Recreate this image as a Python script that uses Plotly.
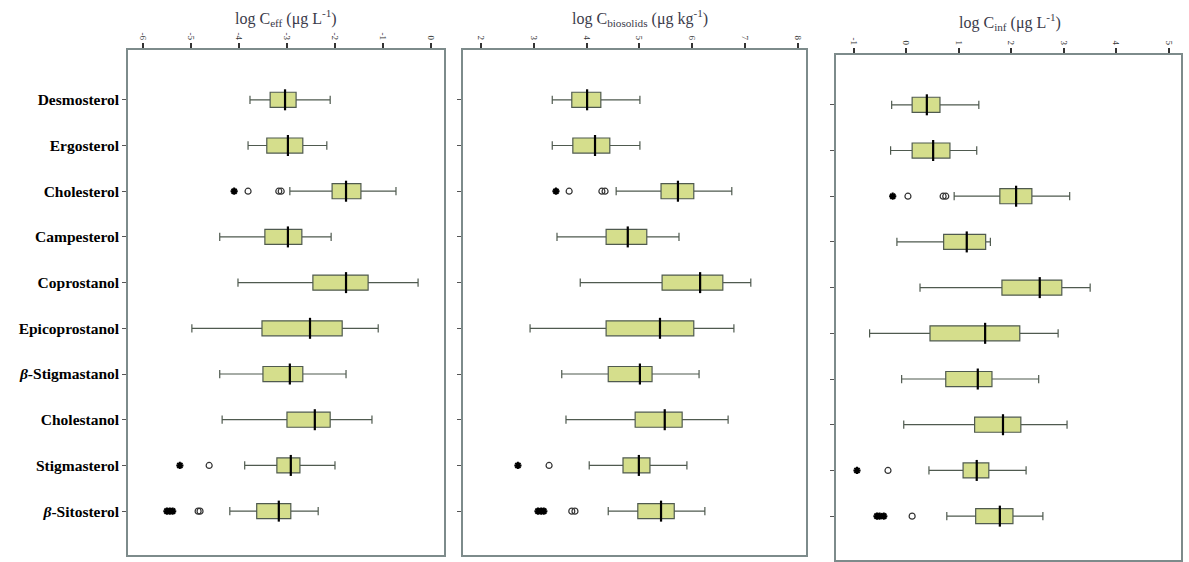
import plotly.graph_objects as go

categories = ["Desmosterol", "Ergosterol", "Cholesterol", "Campesterol", "Coprostanol",
              "Epicoprostanol", "<i>β</i>-Stigmastanol", "Cholestanol", "Stigmasterol",
              "<i>β</i>-Sitosterol"]

# Panel 1: log C_eff
eff_low = [-3.77, -3.81, -2.94, -4.40, -4.02, -4.98, -4.40, -4.35, -3.88, -4.19]
eff_q1 = [-3.35, -3.42, -2.06, -3.46, -2.46, -3.52, -3.50, -3.00, -3.21, -3.63]
eff_med = [-3.04, -2.98, -1.77, -2.98, -1.77, -2.52, -2.94, -2.42, -2.92, -3.17]
eff_q3 = [-2.81, -2.67, -1.46, -2.69, -1.31, -1.85, -2.67, -2.10, -2.73, -2.92]
eff_high = [-2.10, -2.17, -0.73, -2.08, -0.27, -1.10, -1.77, -1.23, -2.00, -2.35]
eff_ext_cat = ["Cholesterol", "Stigmasterol", "<i>β</i>-Sitosterol", "<i>β</i>-Sitosterol", "<i>β</i>-Sitosterol"]
eff_ext_val = [-4.10, -5.23, -5.50, -5.44, -5.38]
eff_out_cat = ["Cholesterol", "Cholesterol", "Cholesterol", "Stigmasterol", "<i>β</i>-Sitosterol", "<i>β</i>-Sitosterol"]
eff_out_val = [-3.81, -3.17, -3.12, -4.62, -4.85, -4.81]

# Panel 2: log C_biosolids
bio_low = [3.35, 3.35, 4.56, 3.44, 3.88, 2.93, 3.53, 3.61, 4.05, 4.41]
bio_q1 = [3.72, 3.74, 5.41, 4.37, 5.43, 4.37, 4.41, 4.92, 4.69, 4.97]
bio_med = [4.01, 4.16, 5.73, 4.78, 6.15, 5.39, 5.01, 5.48, 4.99, 5.41]
bio_q3 = [4.27, 4.44, 6.03, 5.14, 6.58, 6.03, 5.24, 5.81, 5.20, 5.66]
bio_high = [5.01, 5.01, 6.75, 5.75, 7.11, 6.79, 6.13, 6.68, 5.90, 6.24]
bio_ext_cat = ["Cholesterol", "Stigmasterol", "<i>β</i>-Sitosterol", "<i>β</i>-Sitosterol", "<i>β</i>-Sitosterol"]
bio_ext_val = [3.42, 2.70, 3.08, 3.14, 3.19]
bio_out_cat = ["Cholesterol", "Cholesterol", "Cholesterol", "Stigmasterol", "<i>β</i>-Sitosterol", "<i>β</i>-Sitosterol"]
bio_out_val = [3.67, 4.29, 4.35, 3.29, 3.72, 3.78]

# Panel 3: log C_inf
inf_low = [-0.28, -0.30, 0.91, -0.18, 0.26, -0.70, -0.09, -0.05, 0.43, 0.77]
inf_q1 = [0.11, 0.11, 1.78, 0.71, 1.82, 0.45, 0.75, 1.30, 1.08, 1.32]
inf_med = [0.39, 0.51, 2.09, 1.15, 2.54, 1.50, 1.36, 1.84, 1.34, 1.78]
inf_q3 = [0.64, 0.83, 2.39, 1.51, 2.96, 2.16, 1.63, 2.18, 1.57, 2.03]
inf_high = [1.38, 1.34, 3.11, 1.60, 3.50, 2.89, 2.52, 3.06, 2.28, 2.60]
inf_ext_cat = ["Cholesterol", "Stigmasterol", "<i>β</i>-Sitosterol", "<i>β</i>-Sitosterol", "<i>β</i>-Sitosterol"]
inf_ext_val = [-0.26, -0.94, -0.56, -0.51, -0.43]
inf_out_cat = ["Cholesterol", "Cholesterol", "Cholesterol", "Stigmasterol", "<i>β</i>-Sitosterol"]
inf_out_val = [0.03, 0.70, 0.75, -0.35, 0.11]

eff_ticks = [-6, -5, -4, -3, -2, -1, 0]
bio_ticks = [2, 3, 4, 5, 6, 7, 8]
inf_ticks = [-1, 0, 1, 2, 3, 4, 5]

titles = ["log C<sub>eff</sub> (μg L<sup>-1</sup>)",
          "log C<sub>biosolids</sub> (μg kg<sup>-1</sup>)",
          "log C<sub>inf</sub> (μg L<sup>-1</sup>)"]

W, H = 1189, 562
panels = [
    dict(low=eff_low, q1=eff_q1, med=eff_med, q3=eff_q3, high=eff_high,
         ext_c=eff_ext_cat, ext_v=eff_ext_val, out_c=eff_out_cat, out_v=eff_out_val,
         ticks=eff_ticks, xr=[-6.31, 0.27], px=(128, 444), py=(50, 555)),
    dict(low=bio_low, q1=bio_q1, med=bio_med, q3=bio_q3, high=bio_high,
         ext_c=bio_ext_cat, ext_v=bio_ext_val, out_c=bio_out_cat, out_v=bio_out_val,
         ticks=bio_ticks, xr=[1.66, 8.155], px=(463, 806), py=(50, 555)),
    dict(low=inf_low, q1=inf_q1, med=inf_med, q3=inf_q3, high=inf_high,
         ext_c=inf_ext_cat, ext_v=inf_ext_val, out_c=inf_out_cat, out_v=inf_out_val,
         ticks=inf_ticks, xr=[-1.34, 5.23], px=(836, 1181), py=(55, 560)),
]

fig = go.Figure()
layout = {}
frame_col = "#7d8b8b"
for i, p in enumerate(panels):
    n = "" if i == 0 else str(i + 1)
    xa, ya = "x" + n, "y" + n
    fig.add_trace(go.Box(
        y=categories, q1=p["q1"], median=p["med"], q3=p["q3"],
        lowerfence=p["low"], upperfence=p["high"], orientation="h",
        fillcolor="#d5de8c", line=dict(color="#4f5a4f", width=1.2),
        width=0.33, whiskerwidth=0.55, boxpoints=False, showlegend=False,
        xaxis=xa, yaxis=ya, hoverinfo="skip"))
    fig.add_trace(go.Scatter(
        x=p["med"], y=categories, mode="markers", xaxis=xa, yaxis=ya,
        marker=dict(symbol="line-ns", size=15, color="black",
                    line=dict(color="black", width=2.2)),
        showlegend=False, hoverinfo="skip"))
    fig.add_trace(go.Scatter(
        x=p["ext_v"], y=p["ext_c"], mode="markers", xaxis=xa, yaxis=ya,
        marker=dict(symbol="asterisk-open", size=6, color="black",
                    line=dict(color="black", width=2)),
        showlegend=False, hoverinfo="skip"))
    fig.add_trace(go.Scatter(
        x=p["out_v"], y=p["out_c"], mode="markers", xaxis=xa, yaxis=ya,
        marker=dict(symbol="circle-open", size=6, color="#333333", line=dict(width=1.2)),
        showlegend=False, hoverinfo="skip"))
    x0, x1 = p["px"]
    y0, y1 = p["py"]
    layout["xaxis" + n] = dict(
        domain=[x0 / W, x1 / W], range=p["xr"], side="top", anchor=ya,
        tickvals=p["ticks"], ticktext=[str(t) for t in p["ticks"]],
        tickangle=90, ticks="outside", ticklen=5, tickcolor="#333", tickwidth=1.5,
        tickfont=dict(family="Liberation Serif", size=9, color="#333"),
        showline=True, linecolor=frame_col, linewidth=1.5, mirror=True,
        showgrid=False, zeroline=False, fixedrange=True)
    layout["yaxis" + n] = dict(
        domain=[1 - y1 / H, 1 - y0 / H], anchor=xa, type="category",
        categoryorder="array", categoryarray=categories,
        range=[9.96, -1.09], ticks="outside", ticklen=4, tickcolor="#555",
        showticklabels=(i == 0),
        tickfont=dict(family="Liberation Serif", size=15.5, color="black", weight="bold"),
        showline=True, linecolor=frame_col, linewidth=1.5, mirror=True,
        showgrid=False, zeroline=False, fixedrange=True)

annotations = []
title_pos = [(286, 18), (640, 18), (1010, 22)]
for t, (tx, ty) in zip(titles, title_pos):
    annotations.append(dict(text=t, x=tx / W, y=1 - ty / H, xref="paper", yref="paper",
                            showarrow=False, xanchor="center", yanchor="middle",
                            font=dict(family="Liberation Serif", size=16, color="#3a3a4a")))

fig.update_layout(width=W, height=H, margin=dict(l=0, r=0, t=0, b=0),
                  plot_bgcolor="white", paper_bgcolor="white",
                  annotations=annotations, **layout)
fig.write_html("out.html", config={"displayModeBar": False},
               post_script="document.body.style.margin='0';")
